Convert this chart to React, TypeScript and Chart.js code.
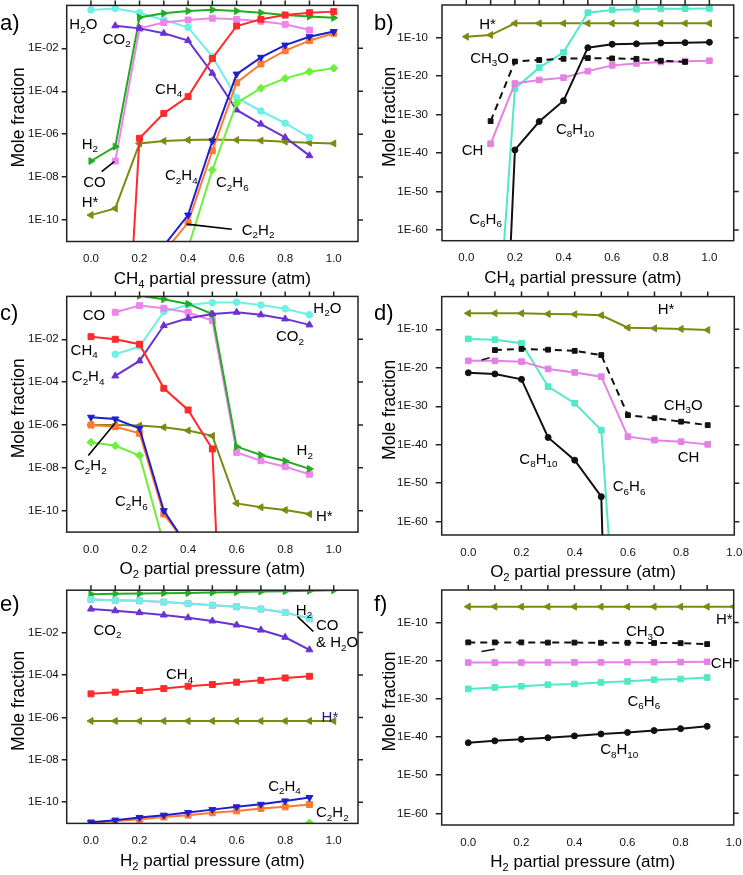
import React, { useEffect, useRef } from 'react';
import { Chart, registerables } from 'chart.js';

Chart.register(...registerables);

const FONT = '"Liberation Sans", Arial, Helvetica, sans-serif';
Chart.defaults.font.family = FONT;

// ---------- x categories (partial pressure, atm) ----------
const X11 = [0, 0.1, 0.2, 0.3, 0.4, 0.5, 0.6, 0.7, 0.8, 0.9, 1.0];
const X10 = [0, 0.1, 0.2, 0.3, 0.4, 0.5, 0.6, 0.7, 0.8, 0.9];
const X_LABEL_TICKS = [0, 0.2, 0.4, 0.6, 0.8, 1.0];
const TOP_TICKS = [0, 0.1, 0.2, 0.3, 0.4, 0.5, 0.6, 0.7, 0.8, 0.9, 1.0];
const Y_TICKS_SMALL = [-2, -4, -6, -8, -10]; // exponents of 10
const Y_TICKS_BIG = [-10, -20, -30, -40, -50, -60];

// ---------- series values: log10(mole fraction) ----------
// a) CH4 partial pressure
const aH2O = [-0.21, -0.14, -0.34, -0.68, -1.02, -2.39, -4.3, -4.92, -5.49, -6.15, null];
const aH2 = [-7.25, -6.58, -0.56, -0.37, -0.26, -0.2, -0.26, -0.34, -0.45, -0.52, -0.58];
const aCO = [null, -7.25, -1.07, -0.8, -0.68, -0.6, -0.65, -0.74, -0.88, -1.15, null];
const aCO2 = [null, -0.95, -1.07, -1.3, -1.64, -3.16, -4.87, -5.53, -6.15, -7.0, null];
const aCH4 = [null, -25.5, -6.19, -5.03, -4.25, -2.47, -0.96, -0.65, -0.45, -0.34, -0.29];
const aC2H4 = [null, null, null, -11.2, -9.77, -6.32, -3.2, -2.42, -1.85, -1.46, -1.22];
const aC2H2 = [null, null, null, -11.5, -10.12, -6.77, -3.6, -2.73, -2.11, -1.64, -1.3];
const aC2H6 = [null, null, null, null, -11.3, -7.67, -4.56, -3.86, -3.4, -3.09, -2.93];
const aHs = [-9.77, -9.46, -6.43, -6.32, -6.27, -6.25, -6.27, -6.3, -6.35, -6.4, -6.43];

// b) CH4 partial pressure, trace species
const bHs = [-9.74, -9.31, -6.27, -6.27, -6.27, -6.27, -6.27, -6.27, -6.27, -6.27, -6.27];
const bC6H6 = [null, -113, -23.2, -17.8, -13.8, -3.5, -2.8, -2.6, -2.5, -2.45, -2.4];
const bC8H10 = [null, -180, -39.2, -31.8, -26.4, -12.6, -11.7, -11.6, -11.4, -11.3, -11.2];
const bCH3O = [null, -31.7, -16.2, -15.8, -15.5, -15.3, -15.4, -15.5, -16.0, -16.3, null];
const bCH = [null, -37.6, -21.9, -21.0, -20.4, -18.7, -17.2, -16.7, -16.3, -16.1, -16.0];

// c) O2 partial pressure
const cH2 = [null, null, 0.03, -0.13, -0.35, -0.82, -7.01, -7.4, -7.68, -8.05];
const cCO = [null, -0.74, -0.43, -0.55, -0.75, -1.13, -7.28, -7.67, -7.95, -8.3];
const cH2O = [null, -2.7, -2.34, -0.71, -0.4, -0.29, -0.27, -0.4, -0.58, -0.86];
const cCO2 = [null, -3.71, -3.01, -1.36, -1.02, -0.82, -0.74, -0.86, -1.05, -1.33];
const cCH4 = [-1.88, -2.0, -2.23, -4.29, -5.3, -7.12, -32.4, null, null, null];
const cC2H4 = [-5.64, -5.72, -6.16, -10.0, -11.7, null, null, null, null, null];
const cC2H2 = [-6.0, -6.08, -6.39, -10.16, -11.65, null, null, null, null, null];
const cC2H6 = [-6.81, -6.97, -7.43, -11.55, null, null, null, null, null, null];
const cHs = [-6.0, -6.0, -6.03, -6.11, -6.26, -6.51, -9.66, -9.84, -9.97, -10.16];

// d) O2 partial pressure, trace species
const dHs = [-5.84, -5.84, -5.84, -6.0, -6.1, -6.36, -9.57, -9.74, -9.91, -10.17];
const dC6H6 = [-12.5, -12.7, -13.6, -24.9, -29.2, -36.2, -135, null, null, null];
const dCH3O = [null, -15.4, -15.1, -15.3, -15.6, -16.7, -32.3, -33.1, -34.0, -34.9];
const dCH = [-18.2, -18.2, -18.4, -20.3, -21.2, -22.3, -37.9, -38.8, -39.2, -39.9];
const dC8H10 = [-21.3, -21.6, -23.0, -38.1, -44.0, -53.5, -300, null, null, null];
const dStrokeX = [0.05, 0.08];
const dStrokeY = [-18.0, -17.4];

// e) H2 partial pressure
const eH2 = [-0.19, -0.17, -0.16, -0.14, -0.13, -0.11, -0.09, -0.06, -0.05, -0.03, 0.0];
const eCO = [-0.44, -0.47, -0.5, -0.56, -0.63, -0.71, -0.78, -0.89, -1.05, -1.33];
const eH2O = [-0.44, -0.47, -0.5, -0.56, -0.63, -0.71, -0.78, -0.89, -1.05, -1.33];
const eCO2 = [-0.89, -0.97, -1.06, -1.17, -1.3, -1.45, -1.64, -1.88, -2.22, -2.81];
const eCH4 = [-4.89, -4.81, -4.73, -4.64, -4.53, -4.45, -4.34, -4.25, -4.14, -4.06];
const eHs = [-6.17, -6.17, -6.17, -6.17, -6.17, -6.17, -6.17, -6.17, -6.17, -6.17, -6.17];
const eC2H4 = [-10.95, -10.85, -10.72, -10.61, -10.49, -10.35, -10.22, -10.1, -9.94, -9.78];
const eC2H2 = [-10.97, -10.89, -10.8, -10.7, -10.61, -10.5, -10.41, -10.3, -10.22, -10.11];
const eC2H6 = [null, null, null, null, null, null, null, null, null, -10.98];

// f) H2 partial pressure, trace species
const fHs = [-5.83, -5.83, -5.83, -5.83, -5.83, -5.83, -5.83, -5.83, -5.83, -5.83, -5.83];
const fCH3O = [-15.2, -15.2, -15.2, -15.25, -15.25, -15.3, -15.3, -15.35, -15.4, -15.65];
const fCH = [-20.5, -20.5, -20.48, -20.46, -20.44, -20.42, -20.4, -20.38, -20.35, -20.3];
const fC6H6 = [-27.4, -27.0, -26.7, -26.3, -26.1, -25.7, -25.4, -25.0, -24.8, -24.4];
const fC8H10 = [-41.5, -41.0, -40.6, -40.2, -39.7, -39.2, -38.8, -38.3, -37.8, -37.2];
const fStrokeX = [0.05, 0.1];
const fStrokeY = [-17.6, -17.0];

// ---------- colours ----------
const C = {
  H2O: '#6ef0e6',
  CO: '#ec86ec',
  CO2: '#6a32d2',
  H2: '#22ac22',
  CH4: '#ff2a2a',
  C2H4: '#1f1fd0',
  C2H2: '#ff7a30',
  C2H6: '#6cf03a',
  Hs: '#7d8a12',
  C6H6: '#52e8c8',
  CH: '#e580e5',
  K: '#111111',
};

type Ser = {
  x: number[];
  v: (number | null)[];
  color: string;
  pt: any;
  rot?: number;
  r?: number;
  dash?: number[];
  w?: number;
};
type Ann = { t: string; x: number; y: number; color?: string };
type Panel = {
  id: string;
  letter: string;
  cx: number;
  cy: number;
  w: number;
  h: number;
  area: { left: number; top: number; right: number; bottom: number }; // plot-area insets from canvas edges
  xMax: number;
  yMin: number;
  yMax: number;
  yTicks: number[];
  yLabelPad: number;
  yTickLen: number;
  xTitle: string;
  letterY: number;
  series: Ser[];
  anns: Ann[];
  leaders: number[][];
};

const S = (x: number[], v: (number | null)[], color: string, pt: any, rot = 0, r?: number, dash?: number[], w?: number): Ser => ({
  x, v, color, pt, rot, r, dash, w,
});

const PANELS: Panel[] = [
  {
    id: 'a', letter: 'a)', cx: 0, cy: 0, w: 371, h: 290,
    area: { left: 66.7, top: 5.4, right: 13, bottom: 48.5 },
    xMax: 1.1, yMin: -11, yMax: 0, yTicks: Y_TICKS_SMALL, yLabelPad: 3, yTickLen: 5,
    xTitle: 'CH_4 partial pressure (atm)', letterY: 21.7,
    series: [
      S(X11, aCH4, C.CH4, 'rect', 0, 4.2),
      S(X11, aC2H4, C.C2H4, 'triangle', 180, 4),
      S(X11, aC2H2, C.C2H2, 'rect', 0, 4.2),
      S(X11, aC2H6, C.C2H6, 'rectRot', 0, 4),
      S(X11, aCO2, C.CO2, 'triangle', 0, 4),
      S(X11, aH2, C.H2, 'triangle', 90, 4),
      S(X11, aCO, C.CO, 'rect', 0, 4.2),
      S(X11, aH2O, C.H2O, 'circle', 0, 3.3),
      S(X11, aHs, C.Hs, 'triangle', -90, 4),
    ],
    anns: [
      { t: 'H_2O', x: -0.089, y: -0.87 },
      { t: 'CO_2', x: 0.048, y: -1.53 },
      { t: 'CH_4', x: 0.264, y: -3.86 },
      { t: 'H_2', x: -0.038, y: -6.43 },
      { t: 'CO', x: -0.032, y: -8.21 },
      { t: 'H*', x: -0.038, y: -9.15 },
      { t: 'C_2H_4', x: 0.305, y: -7.9 },
      { t: 'C_2H_6', x: 0.515, y: -8.21 },
      { t: 'C_2H_2', x: 0.621, y: -10.43 },
    ],
    leaders: [[0.044, -7.75, 0.096, -7.28], [0.394, -10.19, 0.58, -10.43]],
  },
  {
    id: 'b', letter: 'b)', cx: 371, cy: 0, w: 372, h: 290,
    area: { left: 71, top: 5, right: 9.3, bottom: 49.3 },
    xMax: 1.1, yMin: -62.8, yMax: -1.5, yTicks: Y_TICKS_BIG, yLabelPad: 8, yTickLen: 6,
    xTitle: 'CH_4 partial pressure (atm)', letterY: 21.7,
    series: [
      S(X11, bCH3O, C.K, 'rect', 0, 3.4, [7, 5]),
      S(X11, bC8H10, C.K, 'circle', 0, 3),
      S(X11, bCH, C.CH, 'rect', 0, 4),
      S(X11, bC6H6, C.C6H6, 'rect', 0, 4),
      S(X11, bHs, C.Hs, 'triangle', -90, 4),
    ],
    anns: [
      { t: 'H*', x: 0.053, y: -6.44 },
      { t: 'CH_3O', x: 0.016, y: -15.1 },
      { t: 'CH', x: -0.019, y: -39.2 },
      { t: 'C_8H_{10}', x: 0.369, y: -33.6 },
      { t: 'C_6H_6', x: 0.012, y: -57.0 },
    ],
    leaders: [],
  },
  {
    id: 'c', letter: 'c)', cx: 0, cy: 290, w: 371, h: 295,
    area: { left: 66.7, top: 6.4, right: 13, bottom: 52.9 },
    xMax: 1.1, yMin: -11, yMax: 0, yTicks: Y_TICKS_SMALL, yLabelPad: 3, yTickLen: 5,
    xTitle: 'O_2 partial pressure (atm)', letterY: 21.7,
    series: [
      S(X10, cCH4, C.CH4, 'rect', 0, 4.2),
      S(X10, cC2H4, C.C2H4, 'triangle', 180, 4),
      S(X10, cC2H2, C.C2H2, 'rect', 0, 4.2),
      S(X10, cC2H6, C.C2H6, 'rectRot', 0, 4),
      S(X10, cCO2, C.CO2, 'triangle', 0, 4),
      S(X10, cH2, C.H2, 'triangle', 90, 4),
      S(X10, cCO, C.CO, 'rect', 0, 4.2),
      S(X10, cH2O, C.H2O, 'circle', 0, 3.3),
      S(X10, cHs, C.Hs, 'triangle', -90, 4),
    ],
    anns: [
      { t: 'CO', x: -0.034, y: -0.87 },
      { t: 'CH_4', x: -0.084, y: -2.47 },
      { t: 'H_2O', x: 0.916, y: -0.51 },
      { t: 'CO_2', x: 0.762, y: -1.85 },
      { t: 'C_2H_4', x: -0.079, y: -3.71 },
      { t: 'C_2H_2', x: -0.07, y: -7.87 },
      { t: 'C_2H_6', x: 0.099, y: -9.53 },
      { t: 'H_2', x: 0.847, y: -7.17 },
      { t: 'H*', x: 0.927, y: -10.25 },
    ],
    leaders: [[-0.011, -7.43, 0.099, -5.92]],
  },
  {
    id: 'd', letter: 'd)', cx: 371, cy: 290, w: 372, h: 295,
    area: { left: 70.7, top: 6.6, right: 8.7, bottom: 50 },
    xMax: 1.0, yMin: -63.45, yMax: -1.5, yTicks: Y_TICKS_BIG, yLabelPad: 8, yTickLen: 6,
    xTitle: 'O_2 partial pressure (atm)', letterY: 21.7,
    series: [
      S(X10, dCH3O, C.K, 'rect', 0, 3.4, [7, 5]),
      S(dStrokeX, dStrokeY, C.K, 'circle', 0, 0, [], 1.6),
      S(X10, dC8H10, C.K, 'circle', 0, 3),
      S(X10, dCH, C.CH, 'rect', 0, 4),
      S(X10, dC6H6, C.C6H6, 'rect', 0, 4),
      S(X10, dHs, C.Hs, 'triangle', -90, 4),
    ],
    anns: [
      { t: 'H*', x: 0.712, y: -4.54 },
      { t: 'CH_3O', x: 0.735, y: -29.5 },
      { t: 'CH', x: 0.787, y: -43.1 },
      { t: 'C_8H_{10}', x: 0.192, y: -43.5 },
      { t: 'C_6H_6', x: 0.543, y: -50.7 },
    ],
    leaders: [],
  },
  {
    id: 'e', letter: 'e)', cx: 0, cy: 585, w: 371, h: 290,
    area: { left: 66.7, top: 3.25, right: 13, bottom: 51.6 },
    xMax: 1.1, yMin: -11, yMax: 0, yTicks: Y_TICKS_SMALL, yLabelPad: 3, yTickLen: 5,
    xTitle: 'H_2 partial pressure (atm)', letterY: 18.3,
    series: [
      S(X10, eC2H4, C.C2H4, 'triangle', 180, 4),
      S(X10, eC2H2, C.C2H2, 'rect', 0, 4.2),
      S(X10, eC2H6, C.C2H6, 'rectRot', 0, 4),
      S(X10, eCH4, C.CH4, 'rect', 0, 4.2),
      S(X10, eCO2, C.CO2, 'triangle', 0, 4),
      S(X10, eH2O, C.H2O, 'circle', 0, 3.3),
      S(X10, eCO, C.CO, 'rect', 0, 4.2),
      S(X11, eH2, C.H2, 'triangle', 90, 4),
      S(X11, eHs, C.Hs, 'triangle', -90, 4),
    ],
    anns: [
      { t: 'H_2', x: 0.844, y: -0.91 },
      { t: 'CO', x: 0.927, y: -1.61 },
      { t: '& H_2O', x: 0.927, y: -2.42 },
      { t: 'CO_2', x: 0.01, y: -1.85 },
      { t: 'CH_4', x: 0.309, y: -3.93 },
      { t: 'H*', x: 0.95, y: -5.96, color: '#1a1a80' },
      { t: 'C_2H_4', x: 0.73, y: -9.2 },
      { t: 'C_2H_2', x: 0.927, y: -10.45 },
    ],
    leaders: [[0.851, -1.25, 0.916, -1.95]],
  },
  {
    id: 'f', letter: 'f)', cx: 371, cy: 585, w: 372, h: 290,
    area: { left: 70.7, top: 4, right: 9.3, bottom: 50 },
    xMax: 1.0, yMin: -63.05, yMax: -1.47, yTicks: Y_TICKS_BIG, yLabelPad: 8, yTickLen: 6,
    xTitle: 'H_2 partial pressure (atm)', letterY: 18.3,
    series: [
      S(X10, fCH3O, C.K, 'rect', 0, 3.4, [7, 5]),
      S(fStrokeX, fStrokeY, C.K, 'circle', 0, 0, [], 1.6),
      S(X10, fC8H10, C.K, 'circle', 0, 3),
      S(X10, fCH, C.CH, 'rect', 0, 4),
      S(X10, fC6H6, C.C6H6, 'rect', 0, 4),
      S(X11, fHs, C.Hs, 'triangle', -90, 4),
    ],
    anns: [
      { t: 'H*', x: 0.933, y: -8.96 },
      { t: 'CH_3O', x: 0.594, y: -12.17 },
      { t: 'CH', x: 0.914, y: -20.44 },
      { t: 'C_6H_6', x: 0.6, y: -30.4 },
      { t: 'C_8H_{10}', x: 0.497, y: -43.04 },
    ],
    leaders: [],
  },
];

// ---------- rich text with subscripts ----------
function parseRich(text: string) {
  const parts: { t: string; sub: boolean }[] = [];
  let buf = '';
  let i = 0;
  while (i < text.length) {
    const ch = text[i];
    if (ch === '_') {
      if (buf) { parts.push({ t: buf, sub: false }); buf = ''; }
      if (text[i + 1] === '{') {
        const j = text.indexOf('}', i + 2);
        parts.push({ t: text.slice(i + 2, j), sub: true });
        i = j + 1;
      } else {
        parts.push({ t: text[i + 1], sub: true });
        i += 2;
      }
    } else {
      buf += ch;
      i++;
    }
  }
  if (buf) parts.push({ t: buf, sub: false });
  return parts;
}

function drawRich(ctx: CanvasRenderingContext2D, text: string, x: number, yMid: number, size: number, color: string, align: 'left' | 'center') {
  const parts = parseRich(text);
  const sub = size * 0.66;
  const widths = parts.map((p) => {
    ctx.font = `${p.sub ? sub : size}px ${FONT}`;
    return ctx.measureText(p.t).width;
  });
  const total = widths.reduce((a, b) => a + b, 0);
  let cx = align === 'center' ? x - total / 2 : x;
  const base = yMid + size * 0.36;
  ctx.fillStyle = color;
  ctx.textAlign = 'left';
  ctx.textBaseline = 'alphabetic';
  parts.forEach((p, k) => {
    ctx.font = `${p.sub ? sub : size}px ${FONT}`;
    ctx.fillText(p.t, cx, p.sub ? base + size * 0.24 : base);
    cx += widths[k];
  });
}

function fmtExp(e: number) {
  const a = Math.abs(e);
  return '1E-' + (a < 10 ? '0' + a : String(a));
}

const Y_AXIS_W = 60; // fixed width of the left axis box (labels live in it)
const X_AXIS_H = 30; // fixed height of the bottom axis box
const TICK_FONT = 11.5;

function fixFit(scale: any, horiz: boolean) {
  if (horiz) scale.height = X_AXIS_H;
  else scale.width = Y_AXIS_W;
  scale.paddingTop = 0;
  scale.paddingBottom = 0;
  scale.paddingLeft = 0;
  scale.paddingRight = 0;
}

function makeChart(canvas: HTMLCanvasElement, p: Panel) {
  const datasets = p.series.map((s) => ({
    data: s.x.map((x, i) => ({ x, y: s.v[i] === null || s.v[i] === undefined ? null : Math.pow(10, s.v[i] as number) })),
    borderColor: s.color,
    backgroundColor: s.color,
    pointBackgroundColor: s.color,
    pointBorderColor: s.color,
    borderWidth: s.w ?? 2,
    pointRadius: s.r ?? 4,
    pointBorderWidth: 1,
    pointStyle: s.pt,
    pointRotation: s.rot ?? 0,
    borderDash: s.dash ?? [],
    tension: 0,
    clip: 0,
    spanGaps: false,
  }));

  const deco = {
    id: 'deco' + p.id,
    afterDraw(chart: any) {
      const ctx: CanvasRenderingContext2D = chart.ctx;
      const { left: L, top: T, right: R, bottom: B } = chart.chartArea;
      const xs = chart.scales.x;
      const ys = chart.scales.y;
      const px = (v: number) => xs.getPixelForValue(v);
      const py = (e: number) => ys.getPixelForValue(Math.pow(10, e));
      ctx.save();
      ctx.strokeStyle = '#222';
      ctx.lineWidth = 1.5;
      ctx.setLineDash([]);
      ctx.beginPath();
      TOP_TICKS.forEach((v) => {
        if (v >= p.xMax - 1e-9) return;
        const x = px(v);
        ctx.moveTo(x, T);
        ctx.lineTo(x, T - 5);
      });
      p.yTicks.forEach((e) => {
        const y = py(e);
        ctx.moveTo(R, y);
        ctx.lineTo(R + 5, y);
      });
      ctx.stroke();
      ctx.strokeRect(L, T, R - L, B - T);

      ctx.strokeStyle = '#000';
      ctx.lineWidth = 1.6;
      p.leaders.forEach(([x1, y1, x2, y2]) => {
        ctx.beginPath();
        ctx.moveTo(px(x1), py(y1));
        ctx.lineTo(px(x2), py(y2));
        ctx.stroke();
      });

      p.anns.forEach((a) => drawRich(ctx, a.t, px(a.x), py(a.y), 15, a.color ?? '#000', 'left'));

      const right = p.cx > 0;
      drawRich(ctx, p.xTitle, (L + R) / 2 - (right ? 5 : 0), B + 36, 17, '#000', 'center');
      ctx.save();
      ctx.translate(18, (T + B) / 2 - 6);
      ctx.rotate(-Math.PI / 2);
      drawRich(ctx, 'Mole fraction', 0, 0, 17.5, '#000', 'center');
      ctx.restore();

      drawRich(ctx, p.letter, right ? 3 : 0, p.letterY, 22, '#000', 'left');
      ctx.restore();
    },
  };

  const padding = {
    left: p.area.left - Y_AXIS_W,
    top: p.area.top,
    right: p.area.right,
    bottom: p.area.bottom - X_AXIS_H,
  };

  return new Chart(canvas, {
    type: 'line',
    data: { datasets },
    options: {
      animation: false,
      responsive: false,
      devicePixelRatio: 1,
      events: [],
      layout: { padding },
      plugins: { legend: { display: false }, tooltip: { enabled: false } },
      scales: {
        x: {
          type: 'linear',
          min: -0.1,
          max: p.xMax,
          grid: { display: false },
          border: { display: false },
          afterBuildTicks: (s: any) => { s.ticks = X_LABEL_TICKS.map((v) => ({ value: v })); },
          afterFit: (s: any) => fixFit(s, true),
          ticks: {
            autoSkip: false,
            maxRotation: 0,
            minRotation: 0,
            padding: 2.5,
            color: '#111',
            font: { size: TICK_FONT, family: FONT },
            callback: (v: any) => Number(v).toFixed(1),
          },
        },
        y: {
          type: 'logarithmic',
          min: Math.pow(10, p.yMin),
          max: Math.pow(10, p.yMax),
          grid: { display: true, drawOnChartArea: false, drawTicks: true, tickLength: p.yTickLen, color: '#222', lineWidth: 1.5 },
          border: { display: false },
          afterBuildTicks: (s: any) => { s.ticks = p.yTicks.map((e) => ({ value: Math.pow(10, e) })); },
          afterFit: (s: any) => fixFit(s, false),
          ticks: {
            autoSkip: false,
            padding: p.yLabelPad,
            color: '#111',
            font: { size: TICK_FONT, family: FONT },
            callback: (v: any) => fmtExp(Math.round(Math.log10(Number(v)))),
          },
        },
      },
    } as any,
    plugins: [deco],
  });
}

function PanelCanvas({ p }: { p: Panel }) {
  const ref = useRef<HTMLCanvasElement>(null);
  useEffect(() => {
    if (!ref.current) return;
    const ch = makeChart(ref.current, p);
    return () => ch.destroy();
  }, [p]);
  return (
    <canvas
      ref={ref}
      width={p.w}
      height={p.h}
      style={{ position: 'absolute', left: p.cx, top: p.cy, width: p.w, height: p.h }}
    />
  );
}

export default function App() {
  return (
    <div style={{ position: 'absolute', left: 0, top: 0, width: 743, height: 875, background: '#fff', overflow: 'hidden' }}>
      {PANELS.map((p) => (
        <PanelCanvas key={p.id} p={p} />
      ))}
    </div>
  );
}
